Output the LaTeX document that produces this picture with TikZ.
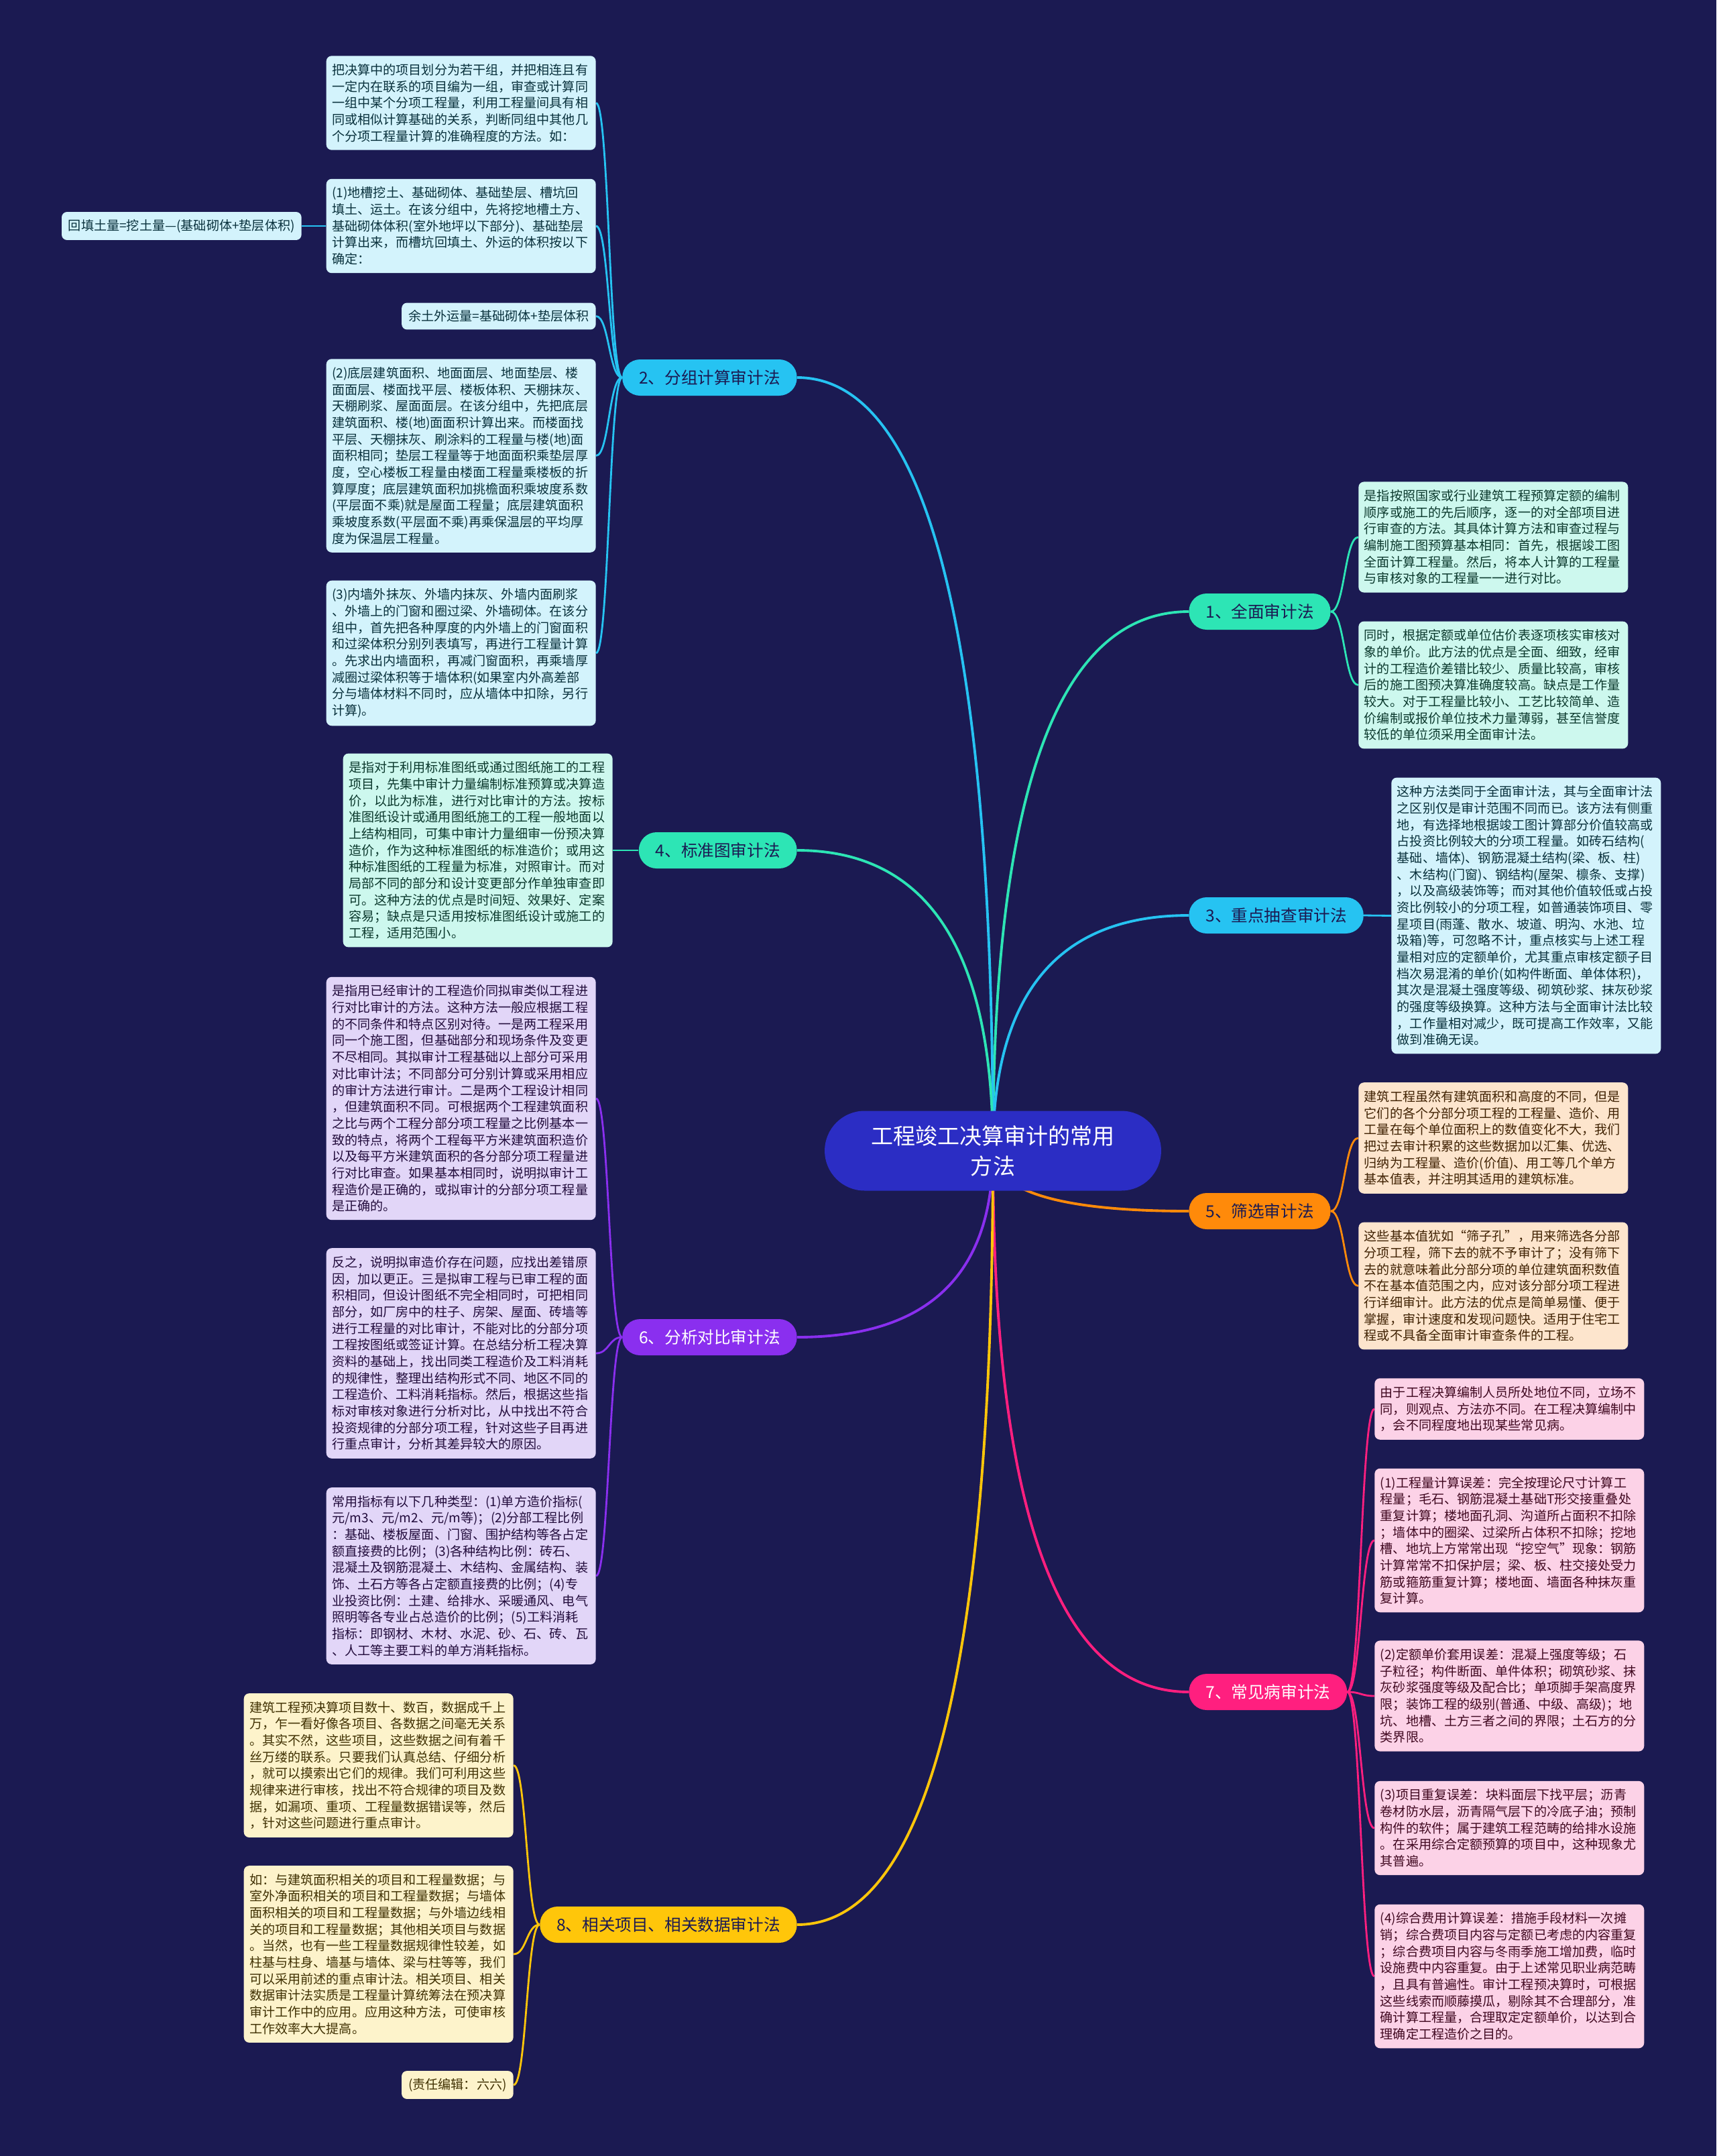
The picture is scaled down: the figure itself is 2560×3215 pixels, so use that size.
\documentclass[tikz,border=0pt]{standalone}
\usepackage{fontspec}
\setmainfont{Noto Sans CJK SC}
\usetikzlibrary{positioning, calc, backgrounds}

\definecolor{bgnavy}{HTML}{1B1A52}
\definecolor{rootblue}{HTML}{2B2DC4}
\definecolor{mintc}{HTML}{2DE5B5}
\definecolor{skyc}{HTML}{26C3F2}
\definecolor{orangec}{HTML}{FF8A0A}
\definecolor{purplec}{HTML}{8A2FEF}
\definecolor{pinkc}{HTML}{FF1F7F}
\definecolor{yellowc}{HTML}{FFC60A}
\definecolor{mintfill}{HTML}{CDF8EE}
\definecolor{skyfill}{HTML}{D3F3FC}
\definecolor{orangefill}{HTML}{FDE5CD}
\definecolor{purplefill}{HTML}{E2D6F8}
\definecolor{pinkfill}{HTML}{FCD2E7}
\definecolor{yellowfill}{HTML}{FDF3CB}

\newcommand{\leaffont}{\fontsize{10.87pt}{14.04pt}\selectfont}
\newcommand{\branchfont}{\fontsize{14pt}{16pt}\selectfont}
\newcommand{\rootfont}{\fontsize{18.8pt}{25.6pt}\selectfont}

\begin{document}
\begin{tikzpicture}[x=0.02cm, y=-0.02cm,
  leaf/.style={rounded corners=0.16cm, align=left, text width=7.7cm, inner xsep=0.17cm, inner ysep=0.24cm, font=\leaffont},
  tag/.style={rounded corners=0.16cm, inner xsep=0.2cm, inner ysep=0.22cm, font=\leaffont},
  branch/.style={rounded corners=0.53cm, minimum height=1.08cm, inner xsep=0.5cm, font=\branchfont},
  rootline/.style={line width=2.2pt},
  leafline/.style={line width=1.6pt}]

\useasboundingbox (0,0) rectangle (2560,3215);

% Root
\node[rounded corners=1.19cm, minimum width=10.04cm, minimum height=2.38cm, fill=rootblue, text=white, align=center, font=\rootfont] (root) at (1481,1716) {工程竣工决算审计的常用\\方法};

% Branches (right)
\node[branch, fill=mintc, text=bgnavy, anchor=west] (b1) at (1773,912) {1、全面审计法};
\node[branch, fill=skyc, text=bgnavy, anchor=west] (b3) at (1773,1365) {3、重点抽查审计法};
\node[branch, fill=orangec, text=bgnavy, anchor=west] (b5) at (1773,1806) {5、筛选审计法};
\node[branch, fill=pinkc, text=white, anchor=west] (b7) at (1773,2523) {7、常见病审计法};

% Branches (left)
\node[branch, fill=skyc, text=bgnavy, anchor=east] (b2) at (1189,563) {2、分组计算审计法};
\node[branch, fill=mintc, text=bgnavy, anchor=east] (b4) at (1189,1268) {4、标准图审计法};
\node[branch, fill=purplec, text=white, anchor=east] (b6) at (1189,1994) {6、分析对比审计法};
\node[branch, fill=yellowc, text=bgnavy, anchor=east] (b8) at (1189,2870) {8、相关项目、相关数据审计法};

% Leaves of 1
\node[leaf, fill=mintfill, text=mintc!25!black, anchor=west] (r1a) at (2026,801) {是指按照国家或行业建筑工程预算定额的编制\\顺序或施工的先后顺序，逐一的对全部项目进\\行审查的方法。其具体计算方法和审查过程与\\编制施工图预算基本相同：首先，根据竣工图\\全面计算工程量。然后，将本人计算的工程量\\与审核对象的工程量一一进行对比。};
\node[leaf, fill=mintfill, text=mintc!25!black, anchor=west] (r1b) at (2026,1021.5) {同时，根据定额或单位估价表逐项核实审核对\\象的单价。此方法的优点是全面、细致，经审\\计的工程造价差错比较少、质量比较高，审核\\后的施工图预决算准确度较高。缺点是工作量\\较大。对于工程量比较小、工艺比较简单、造\\价编制或报价单位技术力量薄弱，甚至信誉度\\较低的单位须采用全面审计法。};

% Leaves of 3
\node[leaf, fill=skyfill, text=skyc!25!black, anchor=west] (r3a) at (2075,1365.5) {这种方法类同于全面审计法，其与全面审计法\\之区别仅是审计范围不同而已。该方法有侧重\\地，有选择地根据竣工图计算部分价值较高或\\占投资比例较大的分项工程量。如砖石结构(\\基础、墙体)、钢筋混凝土结构(梁、板、柱)\\、木结构(门窗)、钢结构(屋架、檩条、支撑)\\，以及高级装饰等；而对其他价值较低或占投\\资比例较小的分项工程，如普通装饰项目、零\\星项目(雨蓬、散水、坡道、明沟、水池、垃\\圾箱)等，可忽略不计，重点核实与上述工程\\量相对应的定额单价，尤其重点审核定额子目\\档次易混淆的单价(如构件断面、单体体积)，\\其次是混凝土强度等级、砌筑砂浆、抹灰砂浆\\的强度等级换算。这种方法与全面审计法比较\\，工作量相对减少，既可提高工作效率，又能\\做到准确无误。};

% Leaves of 5
\node[leaf, fill=orangefill, text=orangec!25!black, anchor=west] (r5a) at (2026,1697) {建筑工程虽然有建筑面积和高度的不同，但是\\它们的各个分部分项工程的工程量、造价、用\\工量在每个单位面积上的数值变化不大，我们\\把过去审计积累的这些数据加以汇集、优选、\\归纳为工程量、造价(价值)、用工等几个单方\\基本值表，并注明其适用的建筑标准。};
\node[leaf, fill=orangefill, text=orangec!25!black, anchor=west] (r5b) at (2026,1917.5) {这些基本值犹如“筛子孔”，用来筛选各分部\\分项工程，筛下去的就不予审计了；没有筛下\\去的就意味着此分部分项的单位建筑面积数值\\不在基本值范围之内，应对该分部分项工程进\\行详细审计。此方法的优点是简单易懂、便于\\掌握，审计速度和发现问题快。适用于住宅工\\程或不具备全面审计审查条件的工程。};

% Leaves of 7
\node[leaf, fill=pinkfill, text=pinkc!25!black, anchor=west] (r7a) at (2050,2101) {由于工程决算编制人员所处地位不同，立场不\\同，则观点、方法亦不同。在工程决算编制中\\，会不同程度地出现某些常见病。};
\node[leaf, fill=pinkfill, text=pinkc!25!black, anchor=west] (r7b) at (2050,2297) {(1)工程量计算误差：完全按理论尺寸计算工\\程量；毛石、钢筋混凝土基础T形交接重叠处\\重复计算；楼地面孔洞、沟道所占面积不扣除\\；墙体中的圈梁、过梁所占体积不扣除；挖地\\槽、地坑上方常常出现“挖空气”现象：钢筋\\计算常常不扣保护层；梁、板、柱交接处受力\\筋或箍筋重复计算；楼地面、墙面各种抹灰重\\复计算。};
\node[leaf, fill=pinkfill, text=pinkc!25!black, anchor=west] (r7c) at (2050,2529) {(2)定额单价套用误差：混凝上强度等级；石\\子粒径；构件断面、单件体积；砌筑砂浆、抹\\灰砂浆强度等级及配合比；单项脚手架高度界\\限；装饰工程的级别(普通、中级、高级)；地\\坑、地槽、土方三者之间的界限；土石方的分\\类界限。};
\node[leaf, fill=pinkfill, text=pinkc!25!black, anchor=west] (r7d) at (2050,2726) {(3)项目重复误差：块料面层下找平层；沥青\\卷材防水层，沥青隔气层下的冷底子油；预制\\构件的软件；属于建筑工程范畴的给排水设施\\。在采用综合定额预算的项目中，这种现象尤\\其普遍。};
\node[leaf, fill=pinkfill, text=pinkc!25!black, anchor=west] (r7e) at (2050,2947) {(4)综合费用计算误差：措施手段材料一次摊\\销；综合费项目内容与定额已考虑的内容重复\\；综合费项目内容与冬雨季施工增加费，临时\\设施费中内容重复。由于上述常见职业病范畴\\，且具有普遍性。审计工程预决算时，可根据\\这些线索而顺藤摸瓜，剔除其不合理部分，准\\确计算工程量，合理取定定额单价，以达到合\\理确定工程造价之目的。};

% Leaves of 2
\node[leaf, fill=skyfill, text=skyc!25!black, anchor=east] (l2a) at (889,153.5) {把决算中的项目划分为若干组，并把相连且有\\一定内在联系的项目编为一组，审查或计算同\\一组中某个分项工程量，利用工程量间具有相\\同或相似计算基础的关系，判断同组中其他几\\个分项工程量计算的准确程度的方法。如：};
\node[leaf, fill=skyfill, text=skyc!25!black, anchor=east] (l2b) at (889,337) {(1)地槽挖土、基础砌体、基础垫层、槽坑回\\填土、运土。在该分组中，先将挖地槽土方、\\基础砌体体积(室外地坪以下部分)、基础垫层\\计算出来，而槽坑回填土、外运的体积按以下\\确定：};
\node[tag, fill=skyfill, text=skyc!25!black, anchor=east] (hui) at (450,337) {回填土量=挖土量—(基础砌体+垫层体积)};
\node[tag, fill=skyfill, text=skyc!25!black, anchor=east] (l2c) at (889,471.5) {余土外运量=基础砌体+垫层体积};
\node[leaf, fill=skyfill, text=skyc!25!black, anchor=east] (l2d) at (889,679.5) {(2)底层建筑面积、地面面层、地面垫层、楼\\面面层、楼面找平层、楼板体积、天棚抹灰、\\天棚刷浆、屋面面层。在该分组中，先把底层\\建筑面积、楼(地)面面积计算出来。而楼面找\\平层、天棚抹灰、刷涂料的工程量与楼(地)面\\面积相同；垫层工程量等于地面面积乘垫层厚\\度，空心楼板工程量由楼面工程量乘楼板的折\\算厚度；底层建筑面积加挑檐面积乘坡度系数\\(平层面不乘)就是屋面工程量；底层建筑面积\\乘坡度系数(平层面不乘)再乘保温层的平均厚\\度为保温层工程量。};
\node[leaf, fill=skyfill, text=skyc!25!black, anchor=east] (l2e) at (889,974) {(3)内墙外抹灰、外墙内抹灰、外墙内面刷浆\\、外墙上的门窗和圈过梁、外墙砌体。在该分\\组中，首先把各种厚度的内外墙上的门窗面积\\和过梁体积分别列表填写，再进行工程量计算\\。先求出内墙面积，再减门窗面积，再乘墙厚\\减圈过梁体积等于墙体积(如果室内外高差部\\分与墙体材料不同时，应从墙体中扣除，另行\\计算)。};

% Leaves of 4
\node[leaf, fill=mintfill, text=mintc!25!black, anchor=east] (l4a) at (914,1268) {是指对于利用标准图纸或通过图纸施工的工程\\项目，先集中审计力量编制标准预算或决算造\\价，以此为标准，进行对比审计的方法。按标\\准图纸设计或通用图纸施工的工程一般地面以\\上结构相同，可集中审计力量细审一份预决算\\造价，作为这种标准图纸的标准造价；或用这\\种标准图纸的工程量为标准，对照审计。而对\\局部不同的部分和设计变更部分作单独审查即\\可。这种方法的优点是时间短、效果好、定案\\容易；缺点是只适用按标准图纸设计或施工的\\工程，适用范围小。};

% Leaves of 6
\node[leaf, fill=purplefill, text=purplec!25!black, anchor=east] (l6a) at (889,1638) {是指用已经审计的工程造价同拟审类似工程进\\行对比审计的方法。这种方法一般应根据工程\\的不同条件和特点区别对待。一是两工程采用\\同一个施工图，但基础部分和现场条件及变更\\不尽相同。其拟审计工程基础以上部分可采用\\对比审计法；不同部分可分别计算或采用相应\\的审计方法进行审计。二是两个工程设计相同\\，但建筑面积不同。可根据两个工程建筑面积\\之比与两个工程分部分项工程量之比例基本一\\致的特点，将两个工程每平方米建筑面积造价\\以及每平方米建筑面积的各分部分项工程量进\\行对比审查。如果基本相同时，说明拟审计工\\程造价是正确的，或拟审计的分部分项工程量\\是正确的。};
\node[leaf, fill=purplefill, text=purplec!25!black, anchor=east] (l6b) at (889,2018) {反之，说明拟审造价存在问题，应找出差错原\\因，加以更正。三是拟审工程与已审工程的面\\积相同，但设计图纸不完全相同时，可把相同\\部分，如厂房中的柱子、房架、屋面、砖墙等\\进行工程量的对比审计，不能对比的分部分项\\工程按图纸或签证计算。在总结分析工程决算\\资料的基础上，找出同类工程造价及工料消耗\\的规律性，整理出结构形式不同、地区不同的\\工程造价、工料消耗指标。然后，根据这些指\\标对审核对象进行分析对比，从中找出不符合\\投资规律的分部分项工程，针对这些子目再进\\行重点审计，分析其差异较大的原因。};
\node[leaf, fill=purplefill, text=purplec!25!black, anchor=east] (l6c) at (889,2350) {常用指标有以下几种类型：(1)单方造价指标(\\元/m3、元/m2、元/m等)；(2)分部工程比例\\：基础、楼板屋面、门窗、围护结构等各占定\\额直接费的比例；(3)各种结构比例：砖石、\\混凝土及钢筋混凝土、木结构、金属结构、装\\饰、土石方等各占定额直接费的比例；(4)专\\业投资比例：土建、给排水、采暖通风、电气\\照明等各专业占总造价的比例；(5)工料消耗\\指标：即钢材、木材、水泥、砂、石、砖、瓦\\、人工等主要工料的单方消耗指标。};

% Leaves of 8
\node[leaf, fill=yellowfill, text=yellowc!25!black, anchor=east] (l8a) at (766,2632.5) {建筑工程预决算项目数十、数百，数据成千上\\万，乍一看好像各项目、各数据之间毫无关系\\。其实不然，这些项目，这些数据之间有着千\\丝万缕的联系。只要我们认真总结、仔细分析\\，就可以摸索出它们的规律。我们可利用这些\\规律来进行审核，找出不符合规律的项目及数\\据，如漏项、重项、工程量数据错误等，然后\\，针对这些问题进行重点审计。};
\node[leaf, fill=yellowfill, text=yellowc!25!black, anchor=east] (l8b) at (766,2914) {如：与建筑面积相关的项目和工程量数据；与\\室外净面积相关的项目和工程量数据；与墙体\\面积相关的项目和工程量数据；与外墙边线相\\关的项目和工程量数据；其他相关项目与数据\\。当然，也有一些工程量数据规律性较差，如\\柱基与柱身、墙基与墙体、梁与柱等等，我们\\可以采用前述的重点审计法。相关项目、相关\\数据审计法实质是工程量计算统筹法在预决算\\审计工作中的应用。应用这种方法，可使审核\\工作效率大大提高。};
\node[tag, fill=yellowfill, text=yellowc!25!black, anchor=east] (l8c) at (766,3109) {(责任编辑：六六)};

% Bend points of the leaf links
\coordinate (m1) at ($(b1.east)!0.5!(r1a.west)$);
\coordinate (m5) at ($(b5.east)!0.5!(r5a.west)$);
\coordinate (m7) at ($(b7.east)!0.5!(r7a.west)$);
\coordinate (m2) at ($(b2.west)!0.5!(l2a.east)$);
\coordinate (m6) at ($(b6.west)!0.5!(l6a.east)$);
\coordinate (m8) at ($(b8.west)!0.5!(l8a.east)$);

\begin{scope}[on background layer]
\fill[bgnavy] (0,0) rectangle (2560,3215);

% Root to branches
\draw[rootline, mintc] (root.center) .. controls ($(root.center)!0.667!(root.center |- b1.west)$) and ($(b1.west)!0.667!(root.center |- b1.west)$) .. (b1.west);
\draw[rootline, skyc] (root.center) .. controls ($(root.center)!0.667!(root.center |- b3.west)$) and ($(b3.west)!0.667!(root.center |- b3.west)$) .. (b3.west);
\draw[rootline, orangec] (root.center) .. controls ($(root.center)!0.667!(root.center |- b5.west)$) and ($(b5.west)!0.667!(root.center |- b5.west)$) .. (b5.west);
\draw[rootline, pinkc] (root.center) .. controls ($(root.center)!0.667!(root.center |- b7.west)$) and ($(b7.west)!0.667!(root.center |- b7.west)$) .. (b7.west);
\draw[rootline, skyc] (root.center) .. controls ($(root.center)!0.667!(root.center |- b2.east)$) and ($(b2.east)!0.667!(root.center |- b2.east)$) .. (b2.east);
\draw[rootline, mintc] (root.center) .. controls ($(root.center)!0.667!(root.center |- b4.east)$) and ($(b4.east)!0.667!(root.center |- b4.east)$) .. (b4.east);
\draw[rootline, purplec] (root.center) .. controls ($(root.center)!0.667!(root.center |- b6.east)$) and ($(b6.east)!0.667!(root.center |- b6.east)$) .. (b6.east);
\draw[rootline, yellowc] (root.center) .. controls ($(root.center)!0.667!(root.center |- b8.east)$) and ($(b8.east)!0.667!(root.center |- b8.east)$) .. (b8.east);

% Branch 1
\draw[leafline, mintc] (b1.east) .. controls (m1 |- b1.east) and (m1 |- r1a.west) .. (r1a.west);
\draw[leafline, mintc] (b1.east) .. controls (m1 |- b1.east) and (m1 |- r1b.west) .. (r1b.west);

% Branch 3
\draw[leafline, skyc] (b3.east) -- (r3a.west);

% Branch 5
\draw[leafline, orangec] (b5.east) .. controls (m5 |- b5.east) and (m5 |- r5a.west) .. (r5a.west);
\draw[leafline, orangec] (b5.east) .. controls (m5 |- b5.east) and (m5 |- r5b.west) .. (r5b.west);

% Branch 7
\draw[leafline, pinkc] (b7.east) .. controls (m7 |- b7.east) and (m7 |- r7a.west) .. (r7a.west);
\draw[leafline, pinkc] (b7.east) .. controls (m7 |- b7.east) and (m7 |- r7b.west) .. (r7b.west);
\draw[leafline, pinkc] (b7.east) .. controls (m7 |- b7.east) and (m7 |- r7c.west) .. (r7c.west);
\draw[leafline, pinkc] (b7.east) .. controls (m7 |- b7.east) and (m7 |- r7d.west) .. (r7d.west);
\draw[leafline, pinkc] (b7.east) .. controls (m7 |- b7.east) and (m7 |- r7e.west) .. (r7e.west);

% Branch 2
\draw[leafline, skyc] (b2.west) .. controls (m2 |- b2.west) and (m2 |- l2a.east) .. (l2a.east);
\draw[leafline, skyc] (b2.west) .. controls (m2 |- b2.west) and (m2 |- l2b.east) .. (l2b.east);
\draw[leafline, skyc] (b2.west) .. controls (m2 |- b2.west) and (m2 |- l2c.east) .. (l2c.east);
\draw[leafline, skyc] (b2.west) .. controls (m2 |- b2.west) and (m2 |- l2d.east) .. (l2d.east);
\draw[leafline, skyc] (b2.west) .. controls (m2 |- b2.west) and (m2 |- l2e.east) .. (l2e.east);
\draw[leafline, skyc] (l2b.west) -- (hui.east);

% Branch 4
\draw[leafline, mintc] (b4.west) -- (l4a.east);

% Branch 6
\draw[leafline, purplec] (b6.west) .. controls (m6 |- b6.west) and (m6 |- l6a.east) .. (l6a.east);
\draw[leafline, purplec] (b6.west) .. controls (m6 |- b6.west) and (m6 |- l6b.east) .. (l6b.east);
\draw[leafline, purplec] (b6.west) .. controls (m6 |- b6.west) and (m6 |- l6c.east) .. (l6c.east);

% Branch 8
\draw[leafline, yellowc] (b8.west) .. controls (m8 |- b8.west) and (m8 |- l8a.east) .. (l8a.east);
\draw[leafline, yellowc] (b8.west) .. controls (m8 |- b8.west) and (m8 |- l8b.east) .. (l8b.east);
\draw[leafline, yellowc] (b8.west) .. controls (m8 |- b8.west) and (m8 |- l8c.east) .. (l8c.east);
\end{scope}

\end{tikzpicture}
\end{document}
